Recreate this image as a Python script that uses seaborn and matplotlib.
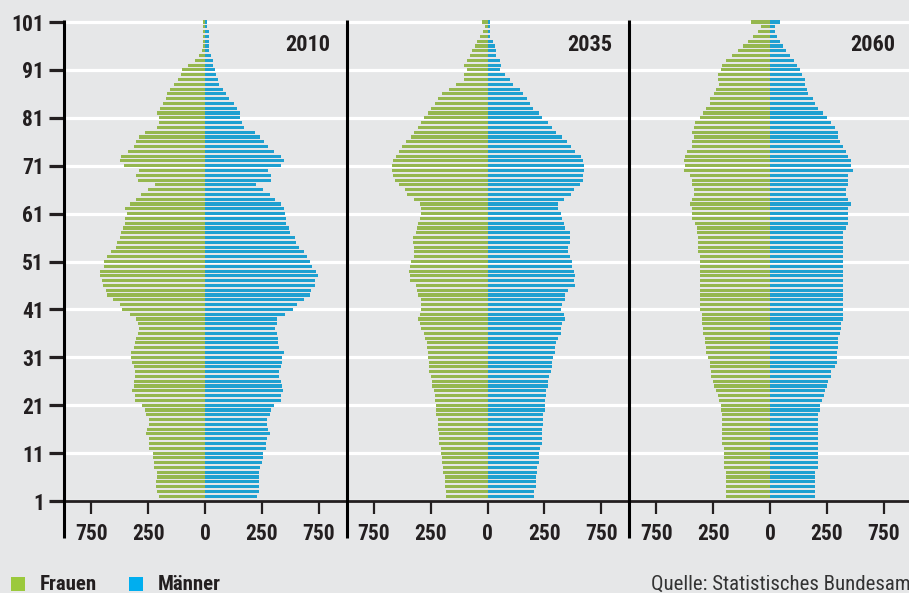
import matplotlib
matplotlib.use("Agg")
import matplotlib.pyplot as plt
from matplotlib.patches import Rectangle
from matplotlib import font_manager as fm
import seaborn as sns
import pandas as pd

# ---------------- data (thousands, ages 101 down to 2) ----------------
ages = list(range(101, 1, -1))
years = ["2010", "2035", "2060"]

frauen_2010 = [9, 9, 9, 9, 9, 9, 13, 26, 44, 75,
               101, 105, 118, 136, 154, 167, 171, 184, 197, 211,
               202, 202, 211, 263, 289, 303, 311, 338, 368, 373,
               355, 289, 303, 294, 219, 250, 281, 303, 329, 351,
               342, 351, 351, 360, 368, 373, 386, 390, 412, 430,
               443, 443, 461, 461, 452, 447, 434, 430, 404, 373,
               364, 329, 303, 294, 289, 294, 303, 307, 311, 325,
               325, 320, 311, 307, 307, 311, 311, 320, 307, 307,
               276, 263, 259, 246, 246, 254, 259, 246, 246, 246,
               228, 228, 224, 224, 211, 211, 215, 215, 211, 202]
maenner_2010 = [9, 9, 17, 17, 17, 17, 17, 26, 35, 35,
                44, 48, 57, 61, 79, 92, 105, 127, 140, 154,
                154, 162, 171, 219, 241, 259, 276, 303, 333, 346,
                333, 276, 289, 289, 224, 254, 285, 307, 333, 346,
                351, 355, 355, 368, 373, 395, 399, 412, 434, 447,
                461, 469, 487, 496, 482, 482, 465, 461, 434, 404,
                386, 351, 316, 316, 307, 316, 320, 320, 325, 346,
                338, 338, 333, 325, 325, 333, 338, 342, 333, 333,
                303, 289, 285, 272, 272, 276, 285, 272, 268, 268,
                254, 254, 250, 241, 237, 237, 237, 237, 237, 228]

frauen_2035 = [26, 13, 18, 31, 44, 57, 66, 75, 88, 105,
               92, 105, 105, 140, 171, 202, 219, 232, 250, 263,
               281, 294, 307, 325, 338, 360, 377, 390, 404, 417,
               421, 421, 417, 408, 390, 364, 355, 325, 298, 294,
               294, 298, 307, 311, 316, 329, 329, 325, 325, 325,
               338, 342, 346, 342, 342, 316, 311, 307, 294, 294,
               294, 298, 307, 298, 294, 281, 276, 268, 268, 263,
               263, 259, 259, 259, 250, 246, 246, 237, 232, 232,
               228, 228, 228, 219, 219, 219, 215, 215, 215, 206,
               206, 202, 202, 197, 197, 189, 189, 189, 184, 184]
maenner_2035 = [9, 13, 13, 13, 26, 35, 39, 39, 53, 61,
                53, 75, 101, 110, 145, 158, 175, 189, 202, 228,
                241, 268, 285, 303, 329, 351, 368, 386, 412, 421,
                425, 425, 421, 421, 408, 382, 368, 338, 311, 311,
                325, 329, 338, 342, 364, 364, 364, 355, 355, 364,
                373, 373, 382, 386, 382, 386, 355, 342, 342, 329,
                325, 338, 342, 329, 325, 325, 311, 303, 298, 298,
                289, 285, 285, 281, 272, 268, 268, 259, 259, 254,
                254, 254, 246, 246, 246, 241, 241, 241, 241, 232,
                228, 228, 228, 219, 219, 215, 215, 215, 206, 206]

frauen_2060 = [85, 41, 54, 76, 98, 120, 142, 168, 194, 212,
               216, 230, 230, 225, 238, 247, 265, 265, 282, 295,
               308, 330, 335, 344, 335, 344, 344, 366, 374, 379,
               374, 379, 352, 344, 344, 335, 335, 344, 352, 344,
               344, 344, 330, 322, 322, 317, 317, 317, 317, 308,
               308, 308, 308, 308, 308, 308, 308, 308, 308, 308,
               308, 300, 300, 300, 295, 295, 287, 287, 282, 282,
               273, 265, 265, 260, 260, 251, 247, 238, 230, 225,
               216, 216, 212, 212, 212, 212, 212, 212, 212, 203,
               203, 203, 203, 203, 194, 194, 194, 194, 194, 194]
maenner_2060 = [42, 20, 20, 29, 42, 56, 69, 86, 104, 117,
                130, 139, 152, 152, 161, 165, 187, 200, 213, 235,
                249, 270, 284, 297, 297, 306, 319, 332, 345, 358,
                358, 367, 345, 341, 341, 332, 332, 345, 354, 345,
                345, 345, 341, 332, 323, 323, 323, 319, 323, 323,
                319, 319, 319, 319, 319, 319, 319, 319, 319, 319,
                319, 319, 319, 310, 310, 306, 297, 297, 297, 293,
                293, 293, 284, 270, 270, 257, 249, 244, 237, 227,
                222, 222, 213, 213, 213, 213, 209, 209, 209, 209,
                209, 209, 209, 209, 200, 200, 200, 200, 196, 196]

frauen = [frauen_2010, frauen_2035, frauen_2060]
maenner = [maenner_2010, maenner_2035, maenner_2060]

y_ticks = list(range(1, 102, 10))
x_ticks = [-500, -250, 0, 250, 500]
x_tick_labels = ["750", "250", "0", "250", "750"]
sexes = ["Frauen", "Männer"]
source = "Quelle: Statistisches Bundesamt"

# ---------------- style ----------------
GREEN = "#9bc93c"
BLUE = "#00aeef"
BG = "#e6e7e8"
INK = "#231f20"


def pick_font():
    entries = fm.fontManager.ttflist
    names = {f.name for f in entries}
    for n in ["Liberation Sans Narrow", "Roboto Condensed", "DejaVu Sans Condensed",
              "Open Sans Condensed", "Noto Sans Condensed", "Arial Narrow"]:
        if n in names:
            return n, "normal", False
    for f in entries:
        st = str(f.stretch).lower()
        if ("condensed" in st or "narrow" in st) and "Mono" not in f.name \
                and "Serif" not in f.name and "CJK" not in f.name:
            return f.name, f.stretch, False
    return "Roboto", "normal", True


FAMILY, STRETCH, NEED_SQUEEZE = pick_font()
plt.rcParams["font.family"] = [FAMILY, "DejaVu Sans"]
plt.rcParams["font.stretch"] = STRETCH
SCALE = 0.86 if NEED_SQUEEZE else 1.0

W, H = 909, 593
fig = plt.figure(figsize=(W / 100, H / 100), dpi=100)
fig.patch.set_facecolor(BG)

ax_left = [64, 346.5, 629]
ax_w = 282
ax_top, ax_bot = 20, 501
line_bottom = -(538 - ax_bot) / (ax_bot - ax_top)
FS = 15.5 * SCALE

for i, year in enumerate(years):
    ax = fig.add_axes([ax_left[i] / W, (H - ax_bot) / H, ax_w / W, (ax_bot - ax_top) / H])
    ax.set_facecolor(BG)
    df = pd.DataFrame({
        "age": ages + ages,
        "value": [-v for v in frauen[i]] + list(maenner[i]),
        "sex": [sexes[0]] * len(ages) + [sexes[1]] * len(ages),
    })
    sns.barplot(data=df, x="value", y="age", hue="sex", orient="y",
                native_scale=True, dodge=False, width=0.65,
                palette={sexes[0]: GREEN, sexes[1]: BLUE},
                errorbar=None, linewidth=0, legend=False, ax=ax, zorder=3)
    ax.set_xlim(-620, 620)
    ax.set_ylim(1, 101.42)
    ax.set_xlabel("")
    ax.set_ylabel("")
    ax.set_yticks(y_ticks)
    ax.set_xticks(x_ticks)
    ax.set_xticklabels(x_tick_labels)
    ax.grid(axis="y", color="white", linewidth=2.3, zorder=0)
    ax.grid(axis="x", visible=False)
    ax.set_axisbelow(True)
    for s in ["top", "right", "left"]:
        ax.spines[s].set_visible(False)
    ax.spines["bottom"].set_color(INK)
    ax.spines["bottom"].set_linewidth(2.0)
    ax.spines["bottom"].set_zorder(5)
    ax.tick_params(axis="x", direction="out", length=9.5, width=1.6, color=INK,
                   pad=6, labelsize=FS, labelcolor=INK)
    for lab in ax.get_xticklabels():
        lab.set_fontweight("bold")
    if i == 0:
        ax.tick_params(axis="y", direction="out", length=10.5, width=2.3, color=INK,
                       pad=4, labelsize=FS, labelcolor=INK)
        for lab in ax.get_yticklabels():
            lab.set_fontweight("bold")
    else:
        ax.tick_params(axis="y", length=0, labelleft=False)
    ax.plot([0, 0], [line_bottom, 1], transform=ax.transAxes, color="black",
            linewidth=2.2, clip_on=False, zorder=6, solid_capstyle="butt")
    ax.text(1 - 16 / ax_w, 1 - 25 / (ax_bot - ax_top), year, transform=ax.transAxes,
            ha="right", va="center", fontsize=16 * SCALE, fontweight="bold", color=INK)

# legend
for (x0, label, col) in [(11, sexes[0], GREEN), (129, sexes[1], BLUE)]:
    fig.add_artist(Rectangle((x0 / W, 1 - 591 / H), 14 / W, 14 / H,
                             transform=fig.transFigure, color=col, linewidth=0))
    fig.text((x0 + 29) / W, 1 - 590 / H, label, ha="left", va="baseline",
             fontsize=15 * SCALE, fontweight="bold", color=INK)

fig.text(651 / W, 1 - 590 / H, source, ha="left", va="baseline",
         fontsize=15 * SCALE, color="#333333")

fig.savefig("out.png", dpi=100, facecolor=BG)
